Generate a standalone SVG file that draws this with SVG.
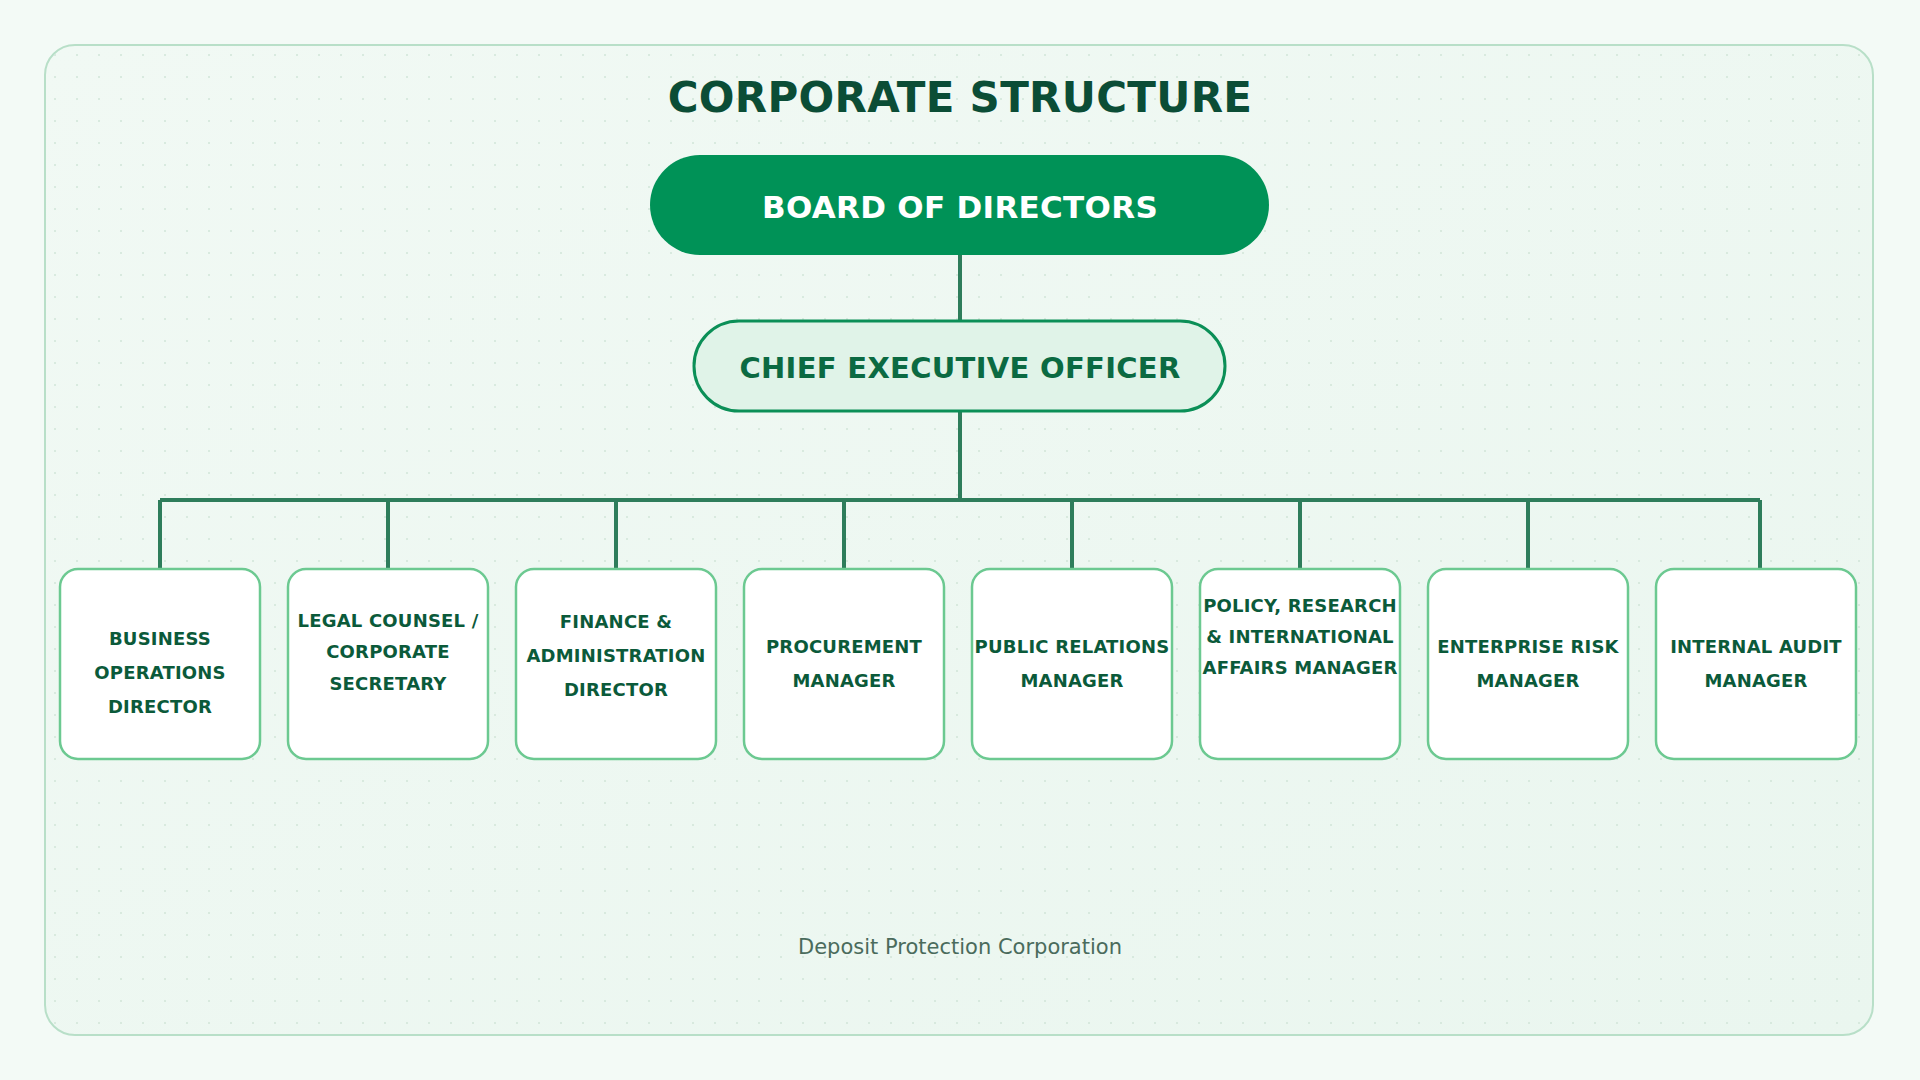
<svg xmlns="http://www.w3.org/2000/svg" width="1920" height="1080" viewBox="0 0 1920 1080">
<defs>
<pattern id="dots" width="22" height="22" patternUnits="userSpaceOnUse"><circle cx="11" cy="11" r="1.1" fill="#d3e6da"/></pattern>
<linearGradient id="bg" x1="0" y1="0" x2="1" y2="1"><stop offset="0" stop-color="#f1f9f4"/><stop offset="1" stop-color="#eaf6ef"/></linearGradient>
</defs>
<style>
text{font-family:"DejaVu Sans","Noto Sans",sans-serif;text-anchor:middle;font-weight:bold}
.box{fill:#ffffff;stroke:#6cc991;stroke-width:2.5}
.bt{font-size:18px;fill:#0b5a3a;letter-spacing:0.2px}
.conn{stroke:#2e7d5b;stroke-width:4;fill:none}
</style>
<rect width="1920" height="1080" fill="#f3faf6"/>
<rect x="45" y="45" width="1828" height="990" rx="30" fill="url(#bg)" stroke="#b8dfc8" stroke-width="2"/>
<rect x="45" y="45" width="1828" height="990" rx="30" fill="url(#dots)"/>
<text x="960" y="112" font-size="42" fill="#0b4d36" letter-spacing="0.3">CORPORATE STRUCTURE</text>
<g id="connectors" class="conn">
<line x1="960" y1="255" x2="960" y2="321"/>
<line x1="960" y1="411" x2="960" y2="500"/>
<line x1="160" y1="500" x2="1760" y2="500"/>
<line x1="160" y1="500" x2="160" y2="569"/>
<line x1="388" y1="500" x2="388" y2="569"/>
<line x1="616" y1="500" x2="616" y2="569"/>
<line x1="844" y1="500" x2="844" y2="569"/>
<line x1="1072" y1="500" x2="1072" y2="569"/>
<line x1="1300" y1="500" x2="1300" y2="569"/>
<line x1="1528" y1="500" x2="1528" y2="569"/>
<line x1="1760" y1="500" x2="1760" y2="569"/>
</g>
<g id="board"><rect x="650" y="155" width="619" height="100" rx="50" fill="#009257"/><text x="960" y="218" font-size="31" fill="#ffffff" letter-spacing="0.3">BOARD OF DIRECTORS</text></g>
<g id="ceo"><rect x="694" y="321" width="531" height="90" rx="45" fill="#e0f3e8" stroke="#0b8f57" stroke-width="3"/><text x="960" y="378" font-size="29" fill="#0b6a42" letter-spacing="0.3">CHIEF EXECUTIVE OFFICER</text></g>
<g id="n1"><rect class="box" x="60" y="569" width="200" height="190" rx="18"/><text class="bt" x="160"><tspan x="160" y="645">BUSINESS</tspan><tspan x="160" y="679">OPERATIONS</tspan><tspan x="160" y="713">DIRECTOR</tspan></text></g>
<g id="n2"><rect class="box" x="288" y="569" width="200" height="190" rx="18"/><text class="bt"><tspan x="388" y="627">LEGAL COUNSEL /</tspan><tspan x="388" y="658">CORPORATE</tspan><tspan x="388" y="690">SECRETARY</tspan></text></g>
<g id="n3"><rect class="box" x="516" y="569" width="200" height="190" rx="18"/><text class="bt"><tspan x="616" y="628">FINANCE &amp;</tspan><tspan x="616" y="662">ADMINISTRATION</tspan><tspan x="616" y="696">DIRECTOR</tspan></text></g>
<g id="n4"><rect class="box" x="744" y="569" width="200" height="190" rx="18"/><text class="bt"><tspan x="844" y="653">PROCUREMENT</tspan><tspan x="844" y="687">MANAGER</tspan></text></g>
<g id="n5"><rect class="box" x="972" y="569" width="200" height="190" rx="18"/><text class="bt"><tspan x="1072" y="653">PUBLIC RELATIONS</tspan><tspan x="1072" y="687">MANAGER</tspan></text></g>
<g id="n6"><rect class="box" x="1200" y="569" width="200" height="190" rx="18"/><text class="bt"><tspan x="1300" y="612">POLICY, RESEARCH</tspan><tspan x="1300" y="643">&amp; INTERNATIONAL</tspan><tspan x="1300" y="674">AFFAIRS MANAGER</tspan></text></g>
<g id="n7"><rect class="box" x="1428" y="569" width="200" height="190" rx="18"/><text class="bt"><tspan x="1528" y="653">ENTERPRISE RISK</tspan><tspan x="1528" y="687">MANAGER</tspan></text></g>
<g id="n8"><rect class="box" x="1656" y="569" width="200" height="190" rx="18"/><text class="bt"><tspan x="1756" y="653">INTERNAL AUDIT</tspan><tspan x="1756" y="687">MANAGER</tspan></text></g>
<text x="960" y="954" font-size="21" fill="#4a6b5c" style="font-weight:normal">Deposit Protection Corporation</text>
</svg>
